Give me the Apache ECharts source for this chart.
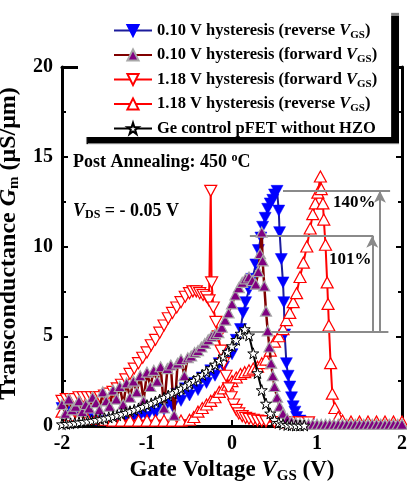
<!DOCTYPE html>
<html><head><meta charset="utf-8">
<script src="https://cdn.jsdelivr.net/npm/echarts@6/dist/echarts.min.js"></script>
<style>html,body{margin:0;padding:0;background:#fff}#c{width:407px;height:483px}</style>
</head><body><div id="c"></div>
<script>
const FONT = '"Liberation Serif","Times New Roman",serif';

// ---- axes ----
const xRange = [-2, 2], xStep = 1;
const yRange = [0, 20], yStep = 5;

// ---- 0.10 V hysteresis (reverse VGS) ----
const blueV = [-2.0,-1.95,-1.9,-1.85,-1.8,-1.7,-1.6,-1.5,-1.4,-1.3,-1.25,-1.2,-1.15,-1.1,-1.05,-1.0,-0.95,-0.9,-0.85,-0.8,-0.75,-0.7,-0.65,-0.6,-0.55,-0.5,-0.45,-0.4,-0.35,-0.3,-0.25,-0.2,-0.15,-0.1,-0.05,0.0,0.05,0.1,0.13,0.16,0.2,0.24,0.28,0.31,0.34,0.36,0.39,0.42,0.45,0.48,0.5,0.53,0.55,0.56,0.58,0.6,0.61,0.62,0.64,0.66,0.68,0.7,0.72,0.74,0.76,0.8,0.85,0.9];
const blueG = [1.0,0.5,0.8,0.4,0.6,0.4,0.3,0.3,0.25,0.3,0.5,0.3,0.6,0.4,0.8,0.5,1.0,0.7,1.2,0.9,1.5,1.1,1.8,1.4,2.1,1.7,2.4,2.0,2.7,2.4,3.1,2.8,3.5,3.3,4.0,4.0,4.8,5.4,6.3,6.9,7.6,8.2,9.0,9.8,10.5,11.1,11.6,12.1,12.4,12.6,12.9,13.1,12.0,10.8,9.3,8.0,6.9,5.1,3.5,2.8,2.2,1.6,1.1,0.8,0.5,0.3,0.15,0.1];

// ---- 0.10 V hysteresis (forward VGS) ----
const purpleV = [-2.0,-1.96,-1.92,-1.88,-1.84,-1.8,-1.76,-1.72,-1.68,-1.64,-1.6,-1.56,-1.52,-1.48,-1.44,-1.4,-1.36,-1.32,-1.28,-1.24,-1.2,-1.16,-1.12,-1.08,-1.04,-1.0,-0.96,-0.92,-0.88,-0.84,-0.8,-0.76,-0.72,-0.68,-0.64,-0.6,-0.56,-0.52,-0.48,-0.44,-0.4,-0.36,-0.32,-0.28,-0.24,-0.2,-0.16,-0.12,-0.08,-0.04,0.0,0.04,0.08,0.12,0.16,0.2,0.24,0.28,0.31,0.33,0.35,0.36,0.38,0.4,0.42,0.44,0.46,0.48,0.5,0.53,0.56,0.6,0.65,0.7,0.75,0.8,0.85,0.9,0.95,1.0,1.05,1.1,1.15,1.2,1.25,1.3,1.35,1.4,1.45,1.5,1.55,1.6,1.65,1.7,1.75,1.8,1.85,1.9,1.95,2.0];
const purpleG = [1.2,0.7,1.5,0.9,1.1,1.4,0.8,1.2,1.0,1.6,1.3,0.9,1.9,1.4,1.1,2.0,1.5,2.2,1.2,2.4,1.6,2.5,1.9,2.8,1.4,3.0,2.2,3.1,2.5,3.3,1.0,3.2,3.4,0.6,3.5,3.7,2.8,3.8,3.9,4.1,4.2,4.4,4.6,4.8,5.0,5.1,5.2,5.5,5.9,6.3,6.8,7.3,7.7,8.0,8.2,8.3,8.1,7.9,8.6,9.6,10.8,9.2,7.8,6.4,5.3,4.4,3.5,2.8,2.2,1.6,1.1,0.7,0.4,0.25,0.18,0.14,0.12,0.1,0.1,0.1,0.09,0.1,0.1,0.09,0.1,0.1,0.1,0.09,0.1,0.1,0.1,0.09,0.1,0.1,0.1,0.09,0.1,0.1,0.1,0.1];

// ---- 1.18 V hysteresis (forward VGS) ----
const redDownV = [-2.0,-1.95,-1.9,-1.85,-1.8,-1.75,-1.7,-1.65,-1.6,-1.55,-1.5,-1.45,-1.4,-1.35,-1.3,-1.25,-1.2,-1.15,-1.1,-1.05,-1.0,-0.95,-0.9,-0.85,-0.8,-0.75,-0.7,-0.65,-0.6,-0.55,-0.5,-0.46,-0.42,-0.38,-0.34,-0.3,-0.27,-0.25,-0.24,-0.22,-0.19,-0.16,-0.13,-0.1,-0.07,-0.04,-0.01,0.02,0.05,0.08,0.12,0.16,0.2,0.25,0.3,0.35,0.4,0.5,0.6,0.7,0.8,0.9];
const redDownG = [1.4,1.5,1.5,1.5,1.6,1.6,1.6,1.6,1.6,1.6,1.7,1.8,1.9,2.1,2.3,2.6,2.9,3.2,3.5,3.8,4.1,4.5,4.8,5.2,5.6,6.0,6.3,6.6,6.9,7.2,7.4,7.5,7.5,7.4,7.3,7.2,7.0,13.1,8.0,6.6,5.8,5.0,4.2,3.5,2.8,2.1,1.6,1.2,0.9,0.7,0.55,0.45,0.4,0.35,0.3,0.28,0.25,0.22,0.2,0.2,0.2,0.2];

// ---- 1.18 V hysteresis (reverse VGS) ----
const redUpV = [-2.0,-1.9,-1.8,-1.7,-1.6,-1.5,-1.4,-1.3,-1.2,-1.1,-1.0,-0.9,-0.8,-0.7,-0.6,-0.5,-0.45,-0.4,-0.35,-0.3,-0.25,-0.2,-0.15,-0.1,-0.05,0.0,0.05,0.1,0.15,0.2,0.25,0.3,0.35,0.4,0.45,0.5,0.55,0.6,0.64,0.68,0.72,0.76,0.8,0.84,0.88,0.92,0.95,0.98,1.01,1.04,1.05,1.07,1.08,1.1,1.12,1.13,1.14,1.16,1.18,1.21,1.25,1.3,1.4,1.5,1.6,1.7,1.8,1.9,2.0];
const redUpG = [0.8,0.6,0.5,0.4,0.4,0.35,0.3,0.3,0.3,0.3,0.3,0.3,0.3,0.3,0.3,0.35,0.5,0.8,1.0,1.2,1.4,1.6,1.9,2.1,2.3,2.5,2.7,2.9,3.0,3.1,3.2,3.3,3.5,3.7,4.2,4.7,5.0,5.4,5.9,6.3,6.9,7.4,8.3,9.1,10.0,11.0,11.8,12.4,13.0,13.9,13.2,12.4,11.5,10.1,8.0,6.8,5.6,3.5,1.8,1.0,0.5,0.3,0.25,0.25,0.25,0.25,0.25,0.25,0.25];

// ---- Ge control pFET without HZO ----
const ctrlV = [-2.0,-1.95,-1.9,-1.85,-1.8,-1.75,-1.7,-1.65,-1.6,-1.55,-1.5,-1.45,-1.4,-1.35,-1.3,-1.25,-1.2,-1.15,-1.1,-1.05,-1.0,-0.95,-0.9,-0.85,-0.8,-0.75,-0.7,-0.65,-0.6,-0.55,-0.5,-0.45,-0.4,-0.35,-0.3,-0.25,-0.2,-0.15,-0.1,-0.05,0.0,0.05,0.1,0.15,0.2,0.25,0.3,0.35,0.4,0.45,0.5,0.55,0.6,0.65,0.7,0.75,0.8,0.85];
const ctrlG = [0.1,0.12,0.14,0.17,0.2,0.23,0.26,0.3,0.34,0.38,0.43,0.48,0.54,0.6,0.67,0.74,0.82,0.9,0.98,1.07,1.16,1.26,1.36,1.47,1.58,1.7,1.82,1.95,2.08,2.22,2.37,2.52,2.68,2.85,3.03,3.22,3.42,3.64,3.88,4.14,4.45,4.8,5.15,5.4,5.05,4.05,2.95,2.0,1.25,0.7,0.35,0.18,0.1,0.06,0.04,0.03,0.03,0.03];

// ---- annotation levels (peak Gm ratios) ----
const baseLevel = 5.25, level101 = 10.6, level140 = 13.1;

const names = [
  '0.10 V hysteresis (reverse VGS)',
  '0.10 V hysteresis (forward VGS)',
  '1.18 V hysteresis (forward VGS)',
  '1.18 V hysteresis (reverse VGS)',
  'Ge control pFET without HZO'
];
const legendRich = {
  [names[0]]: '{a|0.10 V hysteresis (reverse }{i|V}{s|GS}{a|)}',
  [names[1]]: '{a|0.10 V hysteresis (forward }{i|V}{s|GS}{a|)}',
  [names[2]]: '{a|1.18 V hysteresis (forward }{i|V}{s|GS}{a|)}',
  [names[3]]: '{a|1.18 V hysteresis (reverse }{i|V}{s|GS}{a|)}',
  [names[4]]: '{a|Ge control pFET without HZO}'
};

const pairs = (xs, ys) => xs.map((x, i) => [x, ys[i]]);
const DOWN = 'path://M0 0 L100 0 L50 86 Z';
const STAR = 'path://M50 0 L61.8 35.1 L98.8 35.1 L68.9 56.9 L80.2 92 L50 70.3 L19.8 92 L31.1 56.9 L1.2 35.1 L38.2 35.1 Z';

function rich(size, subSize, lh) {
  return {
    a: {fontFamily: FONT, fontWeight: 'bold', fontSize: size, lineHeight: lh, color: '#000'},
    i: {fontFamily: FONT, fontWeight: 'bold', fontStyle: 'italic', fontSize: size, lineHeight: lh, color: '#000'},
    s: {fontFamily: FONT, fontWeight: 'bold', fontSize: subSize, lineHeight: Math.round(subSize*0.85), verticalAlign: 'bottom', color: '#000'},
    u: {fontFamily: FONT, fontWeight: 'bold', fontSize: subSize, lineHeight: Math.round(subSize*0.85), verticalAlign: 'top', color: '#000'}
  };
}

const axisLine = {show: true, onZero: false, lineStyle: {color: '#000', width: 3}};
const tick = {show: true, inside: true, length: 6, lineStyle: {color: '#000', width: 2}};
const minor = {show: true, splitNumber: 2, length: 4, lineStyle: {color: '#000', width: 2}};
const tickLabel = {fontFamily: FONT, fontWeight: 'bold', fontSize: 20, color: '#000'};

const chart = echarts.init(document.getElementById('c'), null, {renderer: 'canvas'});
chart.setOption({
  animation: false,
  backgroundColor: '#fff',
  grid: {left: 62, right: 5, top: 67, bottom: 57, outerBoundsMode: 'none', containLabel: false},
  xAxis: [
    {type: 'value', position: 'bottom', min: xRange[0], max: xRange[1], interval: xStep,
     axisLine, axisTick: tick, minorTick: minor, splitLine: {show: false},
     axisLabel: Object.assign({margin: 8}, tickLabel),
     name: '{a|Gate Voltage }{i|V}{s|GS}{a| (V)}', nameLocation: 'middle', nameGap: 25,
     nameTextStyle: {rich: rich(23, 15, 26)}},
    {type: 'value', position: 'top', min: xRange[0], max: xRange[1], interval: xStep,
     axisLine, axisTick: tick, minorTick: minor, splitLine: {show: false}, axisLabel: {show: false}}
  ],
  yAxis: [
    {type: 'value', position: 'left', min: yRange[0], max: yRange[1], interval: yStep,
     axisLine, axisTick: tick, minorTick: minor, splitLine: {show: false},
     axisLabel: Object.assign({margin: 9}, tickLabel),
     name: '{a|Transconductance }{i|G}{s|m}{a| (μS/μm)}', nameLocation: 'middle', nameGap: 33,
     nameTextStyle: {rich: rich(24, 15, 26), padding: [0, 0, 0, 6]}},
    {type: 'value', position: 'right', min: yRange[0], max: yRange[1], interval: yStep,
     axisLine, axisTick: tick, minorTick: minor, splitLine: {show: false}, axisLabel: {show: false}}
  ],
  legend: {
    orient: 'vertical', left: 78, top: 6, itemWidth: 38, itemHeight: 14, itemGap: 6,
    padding: [16, 14, 0, 35], z: 20, selectedMode: false, data: names,
    backgroundColor: '#fff', borderWidth: 0,
    shadowColor: '#000', shadowBlur: 1, shadowOffsetX: 8, shadowOffsetY: 7,
    formatter: n => legendRich[n],
    textStyle: {rich: rich(16.5, 11, 20)}
  },
  graphic: {
    elements: [
      {type: 'text', z: 16, x: 73, y: 162, style: {text: '{a|Post Annealing: 450 }{u|o}{a|C}', rich: rich(18, 12, 20), verticalAlign: 'middle', fill: '#000'}},
      {type: 'text', z: 16, x: 73, y: 211, style: {text: '{i|V}{s|DS}{a| = - 0.05 V}', rich: rich(18, 12, 20), verticalAlign: 'middle', fill: '#000'}},
      {type: 'text', z: 16, x: 333, y: 203, style: {text: '{a|140%}', rich: rich(17, 11, 20), verticalAlign: 'middle', fill: '#000'}},
      {type: 'text', z: 16, x: 329, y: 260, style: {text: '{a|101%}', rich: rich(17, 11, 20), verticalAlign: 'middle', fill: '#000'}}
    ]
  },
  series: [
    {name: 'annotation', type: 'line', data: [], z: 1, silent: true,
     markLine: {silent: true, animation: false, symbol: ['none', 'none'], symbolSize: [9, 12],
       label: {show: false}, lineStyle: {color: '#8a8a8a', width: 2, type: 'solid'},
       data: [
         [{coord: [0.6, level140]}, {coord: [1.86, level140]}],
         [{coord: [0.21, level101]}, {coord: [1.66, level101]}],
         [{coord: [0.2, baseLevel]}, {coord: [1.84, baseLevel]}],
         [{coord: [1.65, baseLevel], symbol: 'none'}, {coord: [1.65, level101], symbol: 'arrow'}],
         [{coord: [1.74, baseLevel], symbol: 'none'}, {coord: [1.74, level140], symbol: 'arrow'}]
       ]}},
    {name: names[0], type: 'line', z: 2, data: pairs(blueV, blueG),
     symbol: DOWN, symbolSize: [12, 11],
     itemStyle: {color: '#0000ff', borderColor: '#0000ff', borderWidth: 0.5},
     lineStyle: {color: '#1c1c9c', width: 2}},
    {name: names[3], type: 'line', z: 3, data: pairs(redUpV, redUpG),
     symbol: 'triangle', symbolSize: [12, 11],
     itemStyle: {color: '#fff', borderColor: '#ff0000', borderWidth: 1.2},
     lineStyle: {color: '#ff0000', width: 2}},
    {name: names[2], type: 'line', z: 4, data: pairs(redDownV, redDownG),
     symbol: DOWN, symbolSize: [12, 11],
     itemStyle: {color: '#fff', borderColor: '#ff0000', borderWidth: 1.2},
     lineStyle: {color: '#ff0000', width: 2}},
    {name: names[1], type: 'line', z: 5, data: pairs(purpleV, purpleG),
     symbol: 'triangle', symbolSize: [11, 10],
     itemStyle: {color: '#800080', borderColor: '#a8a8a8', borderWidth: 1.2},
     lineStyle: {color: '#800000', width: 2.5}},
    {name: names[4], type: 'line', z: 6, data: pairs(ctrlV, ctrlG),
     symbol: STAR, symbolSize: 11,
     itemStyle: {color: '#fff', borderColor: '#000', borderWidth: 1},
     lineStyle: {color: '#000', width: 2}}
  ]
});
</script>
</body></html>
